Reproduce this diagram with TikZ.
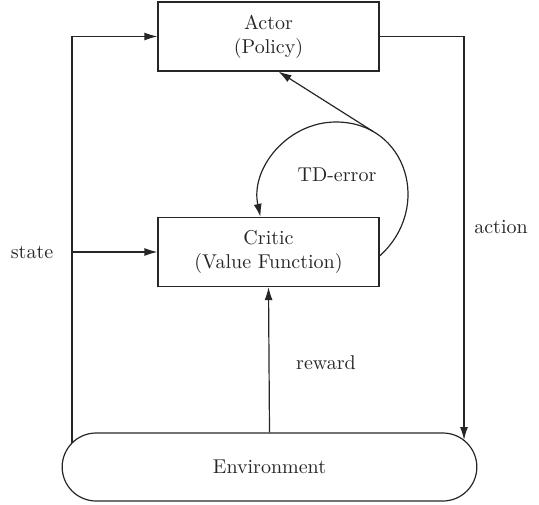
\documentclass[tikz,border=0pt]{standalone}
\usetikzlibrary{shapes.misc,arrows.meta,positioning,calc}
\begin{document}
\begin{tikzpicture}[x=0.5pt, y=0.5pt,
  block/.style={draw=black!85, line width=0.6pt, minimum width=110.5pt, minimum height=34.5pt,
                align=center, text=black!85, inner sep=2pt},
  envshape/.style={draw=black!85, line width=0.6pt, rounded rectangle, minimum width=214pt,
                   minimum height=34pt, text=black!85},
  flow/.style={-{Latex[length=6.5pt,width=4pt]}, line width=0.6pt, draw=black!85},
  lbl/.style={text=black!85}
]
\useasboundingbox (0,0) rectangle (539,504);

\node[block] (actor) at (268.5,467.5) {Actor\\(Policy)};
\node[block] (critic) at (268.5,252) {Critic\\(Value Function)};
\node[envshape] (env) at (269.5,37) {Environment};

% points where the loop lines meet the environment
\coordinate (envL) at (72,61);
\coordinate (envR) at (464,64);

\draw[flow] (envL) |- (actor.west);
\draw[flow] (envL |- critic.west) -- (critic.west);
\draw[flow] (actor.east) -| (envR);
\draw[flow] (env.north) -- (critic.south);

% TD-error loop
\draw[flow] ([yshift=-2pt]critic.east) .. controls (433,296) and (407,382) .. coordinate[pos=0.8] (td) (336,382)
  .. controls (287,382) and (250,335) .. ([xshift=-4pt]critic.north);
\draw[flow] (td) -- ([xshift=5pt]actor.south);

\node[lbl] (state) at (32,252) {state};
\node[lbl] (action) at (501,277) {action};
\node[lbl] (reward) at (326,141) {reward};
\node[lbl] (tderr) at (337,329) {TD-error};
\end{tikzpicture}
\end{document}
